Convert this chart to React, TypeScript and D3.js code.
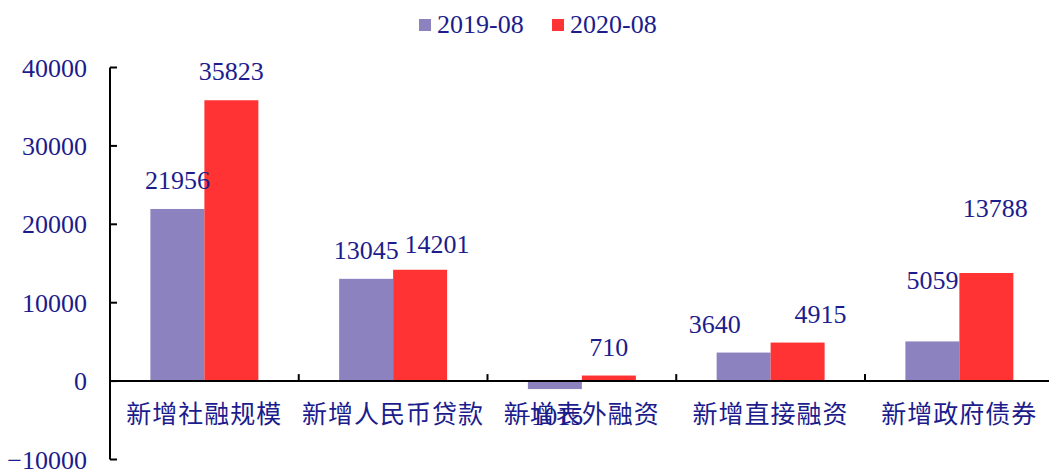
import React from "react";
import * as d3 from "d3";

const categories = ["新增社融规模", "新增人民币贷款", "新增表外融资", "新增直接融资", "新增政府债券"];
const seriesNames = ["2019-08", "2020-08"];
const values2019 = [21956, 13045, -1015, 3640, 5059];
const values2020 = [35823, 14201, 710, 4915, 13788];
const yTicks = [-10000, 0, 10000, 20000, 30000, 40000];

// layout config (label nudges, not data)
const labelNudge: Record<string, [number, number]> = {
  "1-1": [17, 3.5],
  "3-0": [-29, 0],
  "3-1": [23, 0],
  "4-0": [0, -32],
  "4-1": [9, -36],
};

const W = 1049;
const H = 469;
const TEXT = "#1c1c8c";
const COLORS = ["#8c82bf", "#ff3333"];
const NUM_FONT = "'Liberation Serif', 'DejaVu Serif', serif";
const CJK_FONT = "'Noto Sans CJK SC', sans-serif";
const fmt = d3.format("d");

export default function App() {
  const y = d3.scaleLinear().domain([-10000, 40000]).range([459.5, 67.5]);
  const x0 = d3.scaleBand<string>().domain(categories).range([110, 1053.75]).padding(0);
  const bw = x0.bandwidth();
  const gap = bw * 0.214;
  const x1 = d3.scaleBand<string>().domain(seriesNames).range([gap, bw - gap]).padding(0);
  const series = [values2019, values2020];
  const zeroY = y(0);

  return (
    <svg width={W} height={H} style={{ position: "absolute", left: 0, top: 0, background: "#fff" }}>
      {/* legend */}
      {seriesNames.map((s, i) => {
        const lx = i === 0 ? 419 : 552;
        return (
          <g key={s}>
            <rect x={lx} y={19} width={12} height={12} fill={COLORS[i]} />
            <text x={lx + 18} y={33} fontFamily={NUM_FONT} fontSize={26} fill={TEXT}>{s}</text>
          </g>
        );
      })}

      {/* bars */}
      {series.map((vals, si) =>
        vals.map((v, ci) => {
          const bx = (x0(categories[ci]) as number) + (x1(seriesNames[si]) as number);
          const top = Math.min(y(v), zeroY);
          const h = Math.abs(y(v) - zeroY);
          return <rect key={`b${si}-${ci}`} x={bx} y={top} width={x1.bandwidth()} height={h} fill={COLORS[si]} />;
        })
      )}

      {/* y axis */}
      <line x1={110} x2={110} y1={y(40000)} y2={y(-10000)} stroke="#000" strokeWidth={2} />
      {yTicks.map((t) => (
        <g key={t}>
          <line x1={110} x2={117} y1={y(t)} y2={y(t)} stroke="#000" strokeWidth={2} />
          <text x={87} y={y(t)} dy="0.35em" textAnchor="end" fontFamily={NUM_FONT} fontSize={26} fill={TEXT}>
            {fmt(t)}
          </text>
        </g>
      ))}

      {/* x axis */}
      <line x1={110} x2={W} y1={zeroY} y2={zeroY} stroke="#000" strokeWidth={2} />
      {categories.slice(1).map((c) => (
        <line key={c} x1={x0(c)} x2={x0(c)} y1={zeroY} y2={zeroY - 7} stroke="#000" strokeWidth={2} />
      ))}

      {/* category labels */}
      {categories.map((c) => (
        <text
          key={c}
          x={(x0(c) as number) + bw / 2}
          y={423}
          textAnchor="middle"
          fontFamily={CJK_FONT}
          fontSize={25}
          letterSpacing={1}
          fill={TEXT}
        >
          {c}
        </text>
      ))}

      {/* value labels */}
      {series.map((vals, si) =>
        vals.map((v, ci) => {
          const cx = (x0(categories[ci]) as number) + (x1(seriesNames[si]) as number) + x1.bandwidth() / 2;
          const nudge = labelNudge[`${ci}-${si}`] || [0, 0];
          const ly = v >= 0 ? y(v) - 20 : y(v) + 36;
          return (
            <text
              key={`l${si}-${ci}`}
              x={cx + nudge[0] + (v < 0 ? -5 : 0)}
              y={ly + nudge[1]}
              textAnchor="middle"
              fontFamily={NUM_FONT}
              fontSize={26}
              fill={TEXT}
            >
              {fmt(v)}
            </text>
          );
        })
      )}
    </svg>
  );
}
